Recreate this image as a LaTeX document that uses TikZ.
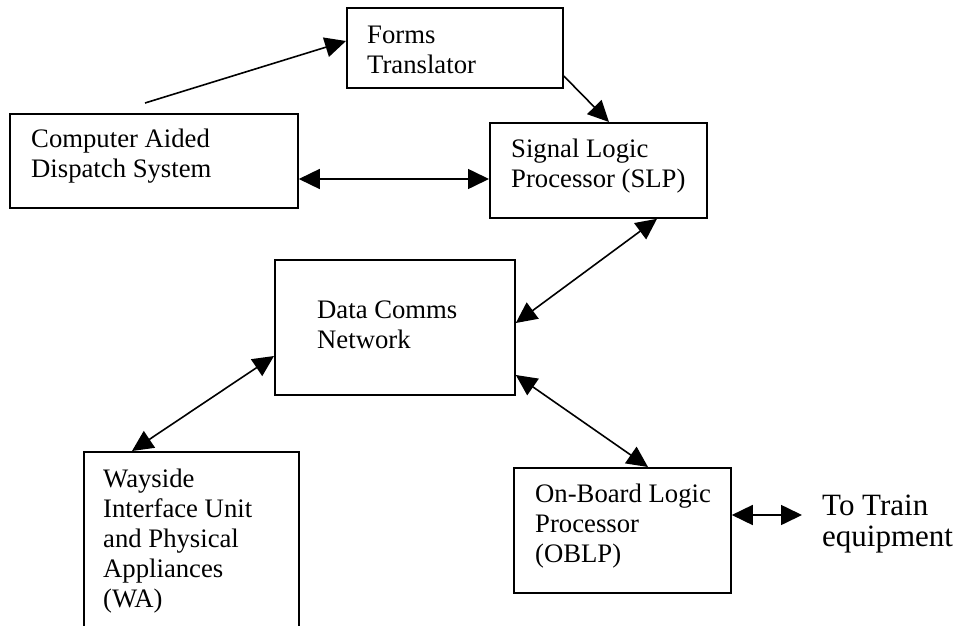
\documentclass[tikz,border=0pt]{standalone}
\usepackage{fontspec}
\setmainfont{Liberation Serif}
\usetikzlibrary{arrows.meta,calc}
\newcommand{\strutA}{\rule{0pt}{30pt}}
\newcommand{\strutB}{\rule{0pt}{30pt}}
\tikzset{
  box/.style={draw, line width=1.8pt, inner sep=0pt, anchor=north west},
  lbl/.style={anchor=north west, inner sep=0pt, align=left, font=\fontsize{26.7}{30}\selectfont},
  biglbl/.style={anchor=north west, inner sep=0pt, align=left, font=\fontsize{31}{31}\selectfont},
  tip/.tip={Triangle[length=21pt,width=20pt]},
  link/.style={line width=1.6pt, tip-tip},
  onelink/.style={line width=1.6pt, -tip}
}
\begin{document}
\begin{tikzpicture}[x=1pt,y=-1pt]
\useasboundingbox (0,0) rectangle (958,626);
\fill[white] (0,0) rectangle (958,626);
\clip (0,0) rectangle (958,626);

% boxes
\node[box, minimum width=216pt, minimum height=80pt]  (forms) at (346,7)   {};
\node[box, minimum width=288pt, minimum height=94pt]  (cad)   at (9,113)   {};
\node[box, minimum width=217pt, minimum height=95pt]  (slp)   at (489,122) {};
\node[box, minimum width=240pt, minimum height=135pt] (dcn)   at (274,259) {};
\node[box, minimum width=215pt, minimum height=220pt] (wa)    at (83,451)  {};
\node[box, minimum width=217pt, minimum height=125pt] (oblp)  at (513,467) {};

% texts (first baseline 30pt below node top)
\node[lbl] (formst) at (367,13)  {\strutA Forms\\Translator};
\node[lbl] (cadt)   at (31,117)  {\strutA Computer Aided\\Dispatch System};
\node[lbl] (slpt)   at (511,127) {\strutA Signal Logic\\Processor (SLP)};
\node[lbl] (dcnt)   at (317,288) {\strutA Data Comms\\Network};
\node[lbl] (wat)    at (103,457) {\strutA Wayside\\Interface Unit\\and Physical\\Appliances\\(WA)};
\node[lbl] (oblpt)  at (535,472) {\strutA On-Board Logic\\Processor\\(OBLP)};
\node[biglbl] (train) at (822,485) {\strutB To Train\\equipment};

% connectors
\coordinate (cadtop) at (145,103);
\coordinate (trainend) at (802,515);
\draw[onelink] (cadtop) -- ($(forms.north west)+(0,34)$);
\draw[onelink] ($(forms.north east)+(0,69)$) -- ($(slp.north west)+(120,0)$);
\draw[link] ($(cad.north east)+(0,66)$) -- ($(slp.north west)+(0,57)$);
\draw[link] ($(slp.south west)+(168,0)$) -- ($(dcn.north east)+(0,64)$);
\draw[link] ($(dcn.north east)+(0,116)$) -- ($(oblp.north west)+(135,0)$);
\draw[link] ($(dcn.north west)+(0,97)$) -- ($(wa.north west)+(49,0)$);
\draw[link] ($(oblp.north east)+(0,48)$) -- (trainend);
\end{tikzpicture}
\end{document}
